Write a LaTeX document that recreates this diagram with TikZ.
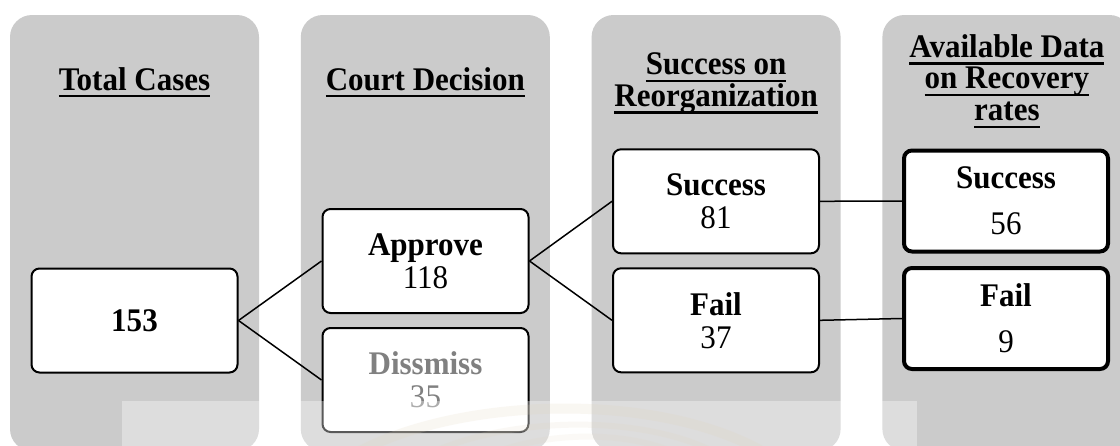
\documentclass[tikz,border=0pt]{standalone}
\usepackage{fontspec}
\setmainfont{Liberation Serif}[FakeStretch=0.94]
\newcommand{\ulbox}[1]{\setbox0\hbox{#1}\rlap{\rule[-3.6pt]{\wd0}{1.1pt}}\box0}
\definecolor{colgray}{RGB}{203,203,203}
\definecolor{dimtext}{RGB}{128,128,128}
\definecolor{swirl}{RGB}{225,212,185}
\tikzset{
  lane/.style={fill=colgray, rounded corners=11pt},
  card/.style={draw=black, line width=1pt, fill=white, rounded corners=4pt,
    minimum width=103pt, minimum height=52pt, align=center, inner sep=0pt,
    font=\fontsize{16.5}{16.5}\selectfont},
  thickcard/.style={card, line width=2pt, minimum width=102pt, minimum height=50.5pt},
  title/.style={align=center, inner sep=0pt,
    font=\fontsize{16.5}{15.8}\selectfont\bfseries},
  link/.style={draw=black, line width=0.75pt},
}
\begin{document}
\begin{tikzpicture}[x=0.5pt,y=-0.5pt]
\useasboundingbox (0,0) rectangle (1120,445);
\clip (0,0) rectangle (1120,445);
\fill[white] (0,0) rectangle (1120,445);
% lanes
\foreach \lx in {10,300.8,591.6,882.4}
  \path[lane] (\lx,15) rectangle ++(249,436);
% titles
\node[title, anchor=base] (t1) at (134.5,90) {\ulbox{Total Cases}};
\node[title, anchor=base] (t2) at (425.3,90) {\ulbox{Court Decision}};
\node[title, anchor=north] (t3) at (716.1,52.5) {\ulbox{Success on}\\\ulbox{Reorganization}};
\node[title, anchor=north] (t4) at (1006.9,34) {\ulbox{Available Data}\\\ulbox{on Recovery}\\\ulbox{rates}};
% cards
\node[card] (total) at (134.5,320.5) {\bfseries 153};
\node[card] (approve) at (425.5,261) {\bfseries Approve\\118};
\node[card, text=dimtext] (dismiss) at (425.5,380) {\bfseries Dissmiss\\35};
\node[card] (succ) at (716,201.3) {\bfseries Success\\81};
\node[card] (fail) at (716,320.3) {\bfseries Fail\\37};
\node[thickcard] (succdata) at (1006,201) {\bfseries Success\\[6.7pt]56};
\node[thickcard] (faildata) at (1006,318.5) {\bfseries Fail\\[6.7pt]9};
% connectors
\draw[link] (total.east) -- (approve.west);
\draw[link] (total.east) -- (dismiss.west);
\draw[link] (approve.east) -- (succ.west);
\draw[link] (approve.east) -- (fail.west);
\draw[link] (succ.east) -- (succdata.west);
\draw[link] (fail.east) -- (faildata.west);
% faint lower band with swirl
\fill[white, opacity=0.35] (122,401) rectangle (917,450);
\begin{scope}
  \clip (122,401) rectangle (917,450);
  \draw[swirl, opacity=0.18, line width=5pt] (330,470) .. controls (420,400) and (640,385) .. (760,450);
  \draw[swirl, opacity=0.14, line width=3pt] (400,470) .. controls (480,415) and (640,410) .. (720,455);
  \draw[swirl, opacity=0.12, line width=3pt] (460,470) .. controls (520,430) and (630,425) .. (690,460);
\end{scope}
\end{tikzpicture}
\end{document}
